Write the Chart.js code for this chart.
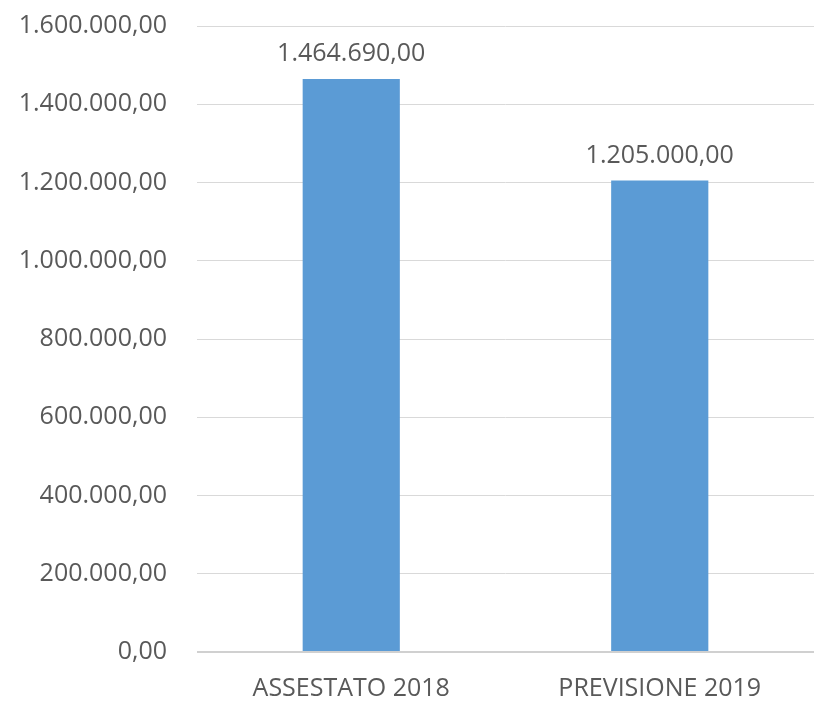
<!DOCTYPE html>
<html lang="it">
<head>
    <meta charset="UTF-8">
    <title>Assestato 2018 / Previsione 2019</title>
    <script src="https://cdn.jsdelivr.net/npm/chart.js"></script>
    <style>
        html, body { margin: 0; padding: 0; background: #fff; }
        #wrap { width: 814px; height: 705px; }
    </style>
</head>
<body>
<div id="wrap">
    <canvas id="barChart"></canvas>
</div>

<script>
    // data
    const categories = ['ASSESTATO 2018', 'PREVISIONE 2019'];
    const values = [1464690, 1205000];
    const yMin = 0;
    const yMax = 1600000;
    const yStep = 200000;

    const textColor = '#595959';
    const fontFamily = '"Open Sans", "Noto Sans", sans-serif';
    const fontSize = 25;

    // italian style: 1.464.690,00
    const formatIt = (n) => {
        const parts = Math.abs(n).toFixed(2).split('.');
        const intPart = parts[0].replace(/\B(?=(\d{3})+(?!\d))/g, '.');
        return (n < 0 ? '-' : '') + intPart + ',' + parts[1];
    };

    // draws the value above each bar
    const valueLabels = {
        id: 'valueLabels',
        afterDatasetsDraw(chart) {
            const ctx = chart.ctx;
            ctx.save();
            ctx.font = fontSize + 'px ' + fontFamily;
            ctx.fillStyle = textColor;
            ctx.textAlign = 'center';
            ctx.textBaseline = 'alphabetic';
            chart.getDatasetMeta(0).data.forEach((bar, i) => {
                ctx.fillText(formatIt(values[i]), bar.x, bar.y - 18);
            });
            ctx.restore();
        }
    };

    const chart = new Chart(document.getElementById('barChart'), {
        type: 'bar',
        data: {
            labels: categories,
            datasets: [{
                data: values,
                backgroundColor: '#5B9BD5',
                borderWidth: 0,
                barPercentage: 0.315,
                categoryPercentage: 1
            }]
        },
        options: {
            responsive: true,
            maintainAspectRatio: false,
            animation: false,
            layout: { padding: { top: 26, right: 0, left: 0, bottom: 0 } },
            plugins: {
                legend: { display: false },
                tooltip: { enabled: false }
            },
            scales: {
                x: {
                    grid: { display: false, drawTicks: false },
                    border: { display: false },
                    ticks: {
                        color: textColor,
                        font: { size: fontSize, family: fontFamily },
                        padding: 22
                    },
                    afterFit(scale) {
                        scale.height = 53;
                        scale.paddingLeft = 0;
                        scale.paddingRight = 0;
                    }
                },
                y: {
                    min: yMin,
                    max: yMax,
                    grid: {
                        color: (c) => c.tick && c.tick.value === 0 ? '#D0D0D0' : '#D9D9D9',
                        lineWidth: (c) => c.tick && c.tick.value === 0 ? 2 : 1,
                        drawTicks: false
                    },
                    border: { display: false },
                    ticks: {
                        stepSize: yStep,
                        color: textColor,
                        font: { size: fontSize, family: fontFamily },
                        padding: 30,
                        callback: (v) => formatIt(v)
                    },
                    afterFit(scale) {
                        scale.width = 197;
                        scale.paddingTop = 0;
                        scale.paddingBottom = 0;
                    }
                }
            }
        },
        plugins: [valueLabels]
    });
</script>
</body>
</html>
